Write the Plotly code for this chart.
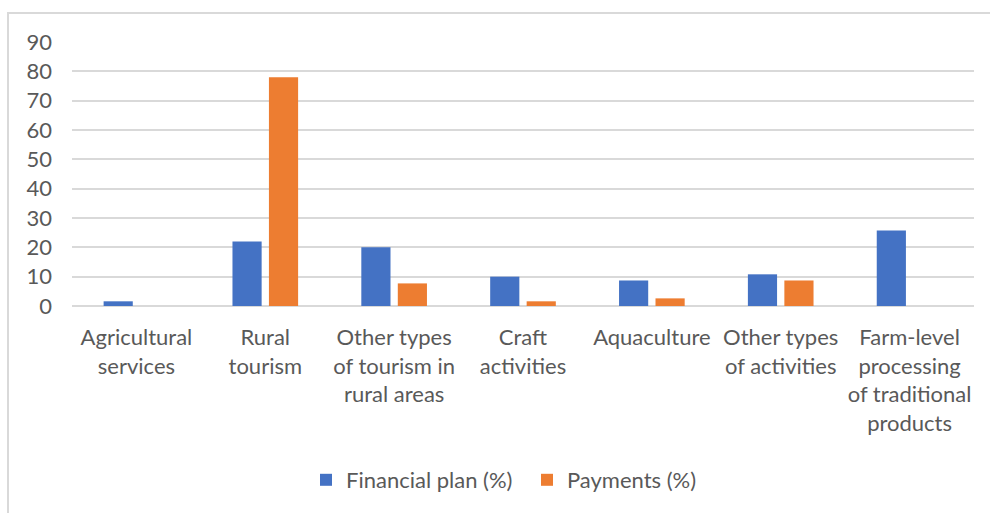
import plotly.graph_objects as go

# Measure categories (line breaks as shown under the axis)
categories = [
    "Agricultural<br>services",
    "Rural<br>tourism",
    "Other types<br>of tourism in<br>rural areas",
    "Craft<br>activities",
    "Aquaculture",
    "Other types<br>of activities",
    "Farm-level<br>processing<br>of traditional<br>products",
]
financial_plan = [1.6, 22, 20, 10, 8.7, 10.8, 25.7]
payments = [0, 78, 7.7, 1.6, 2.6, 8.7, 0]
y_ticks = [0, 10, 20, 30, 40, 50, 60, 70, 80, 90]

FONT = "Lato"
TEXT_GREY = "#595959"
GRID_GREY = "#d9d9d9"

W, H = 990, 513
ML, MR, MT, MB = 72, 16, 42, 207
PW, PH = W - ML - MR, H - MT - MB


def px_to_paper_x(px):
    return (px - ML) / PW


def px_to_paper_y(py):
    return (H - MB - py) / PH


fig = go.Figure()
fig.add_trace(go.Bar(
    name="Financial plan (%)", x=categories, y=financial_plan,
    marker=dict(color="#4472C4", line=dict(width=0)),
))
fig.add_trace(go.Bar(
    name="Payments (%)", x=categories, y=payments,
    marker=dict(color="#ED7D31", line=dict(width=0)),
))

# chart frame (left and top edges)
frame = dict(color=GRID_GREY, width=2)
fig.add_shape(type="line", xref="paper", yref="paper",
              x0=px_to_paper_x(8), x1=px_to_paper_x(8),
              y0=px_to_paper_y(12), y1=px_to_paper_y(H + 5), line=frame)
fig.add_shape(type="line", xref="paper", yref="paper",
              x0=px_to_paper_x(7), x1=px_to_paper_x(W + 5),
              y0=px_to_paper_y(13), y1=px_to_paper_y(13), line=frame)

fig.update_layout(
    width=W, height=H,
    margin=dict(l=ML, r=MR, t=MT, b=MB, autoexpand=False),
    paper_bgcolor="white", plot_bgcolor="white",
    font=dict(family=FONT, size=22, color=TEXT_GREY),
    barmode="group", bargap=0.434, bargroupgap=0.2,
    showlegend=True,
    legend=dict(orientation="h", x=px_to_paper_x(306), xanchor="left",
                y=px_to_paper_y(480), yanchor="middle",
                font=dict(family=FONT, size=22, color=TEXT_GREY),
                entrywidth=176, entrywidthmode="pixels",
                traceorder="normal"),
    xaxis=dict(showgrid=False, showline=False, ticks="",
               tickangle=0, ticklabelstandoff=16,
               tickfont=dict(family=FONT, size=22, color=TEXT_GREY)),
    yaxis=dict(range=[0, 90], tickvals=y_ticks, showgrid=True,
               gridcolor=GRID_GREY, gridwidth=2, zeroline=True,
               zerolinecolor=GRID_GREY, zerolinewidth=2, showline=False,
               ticks="", ticklabelstandoff=19,
               tickfont=dict(family=FONT, size=22, color=TEXT_GREY)),
)

fig.write_html("out.html")
